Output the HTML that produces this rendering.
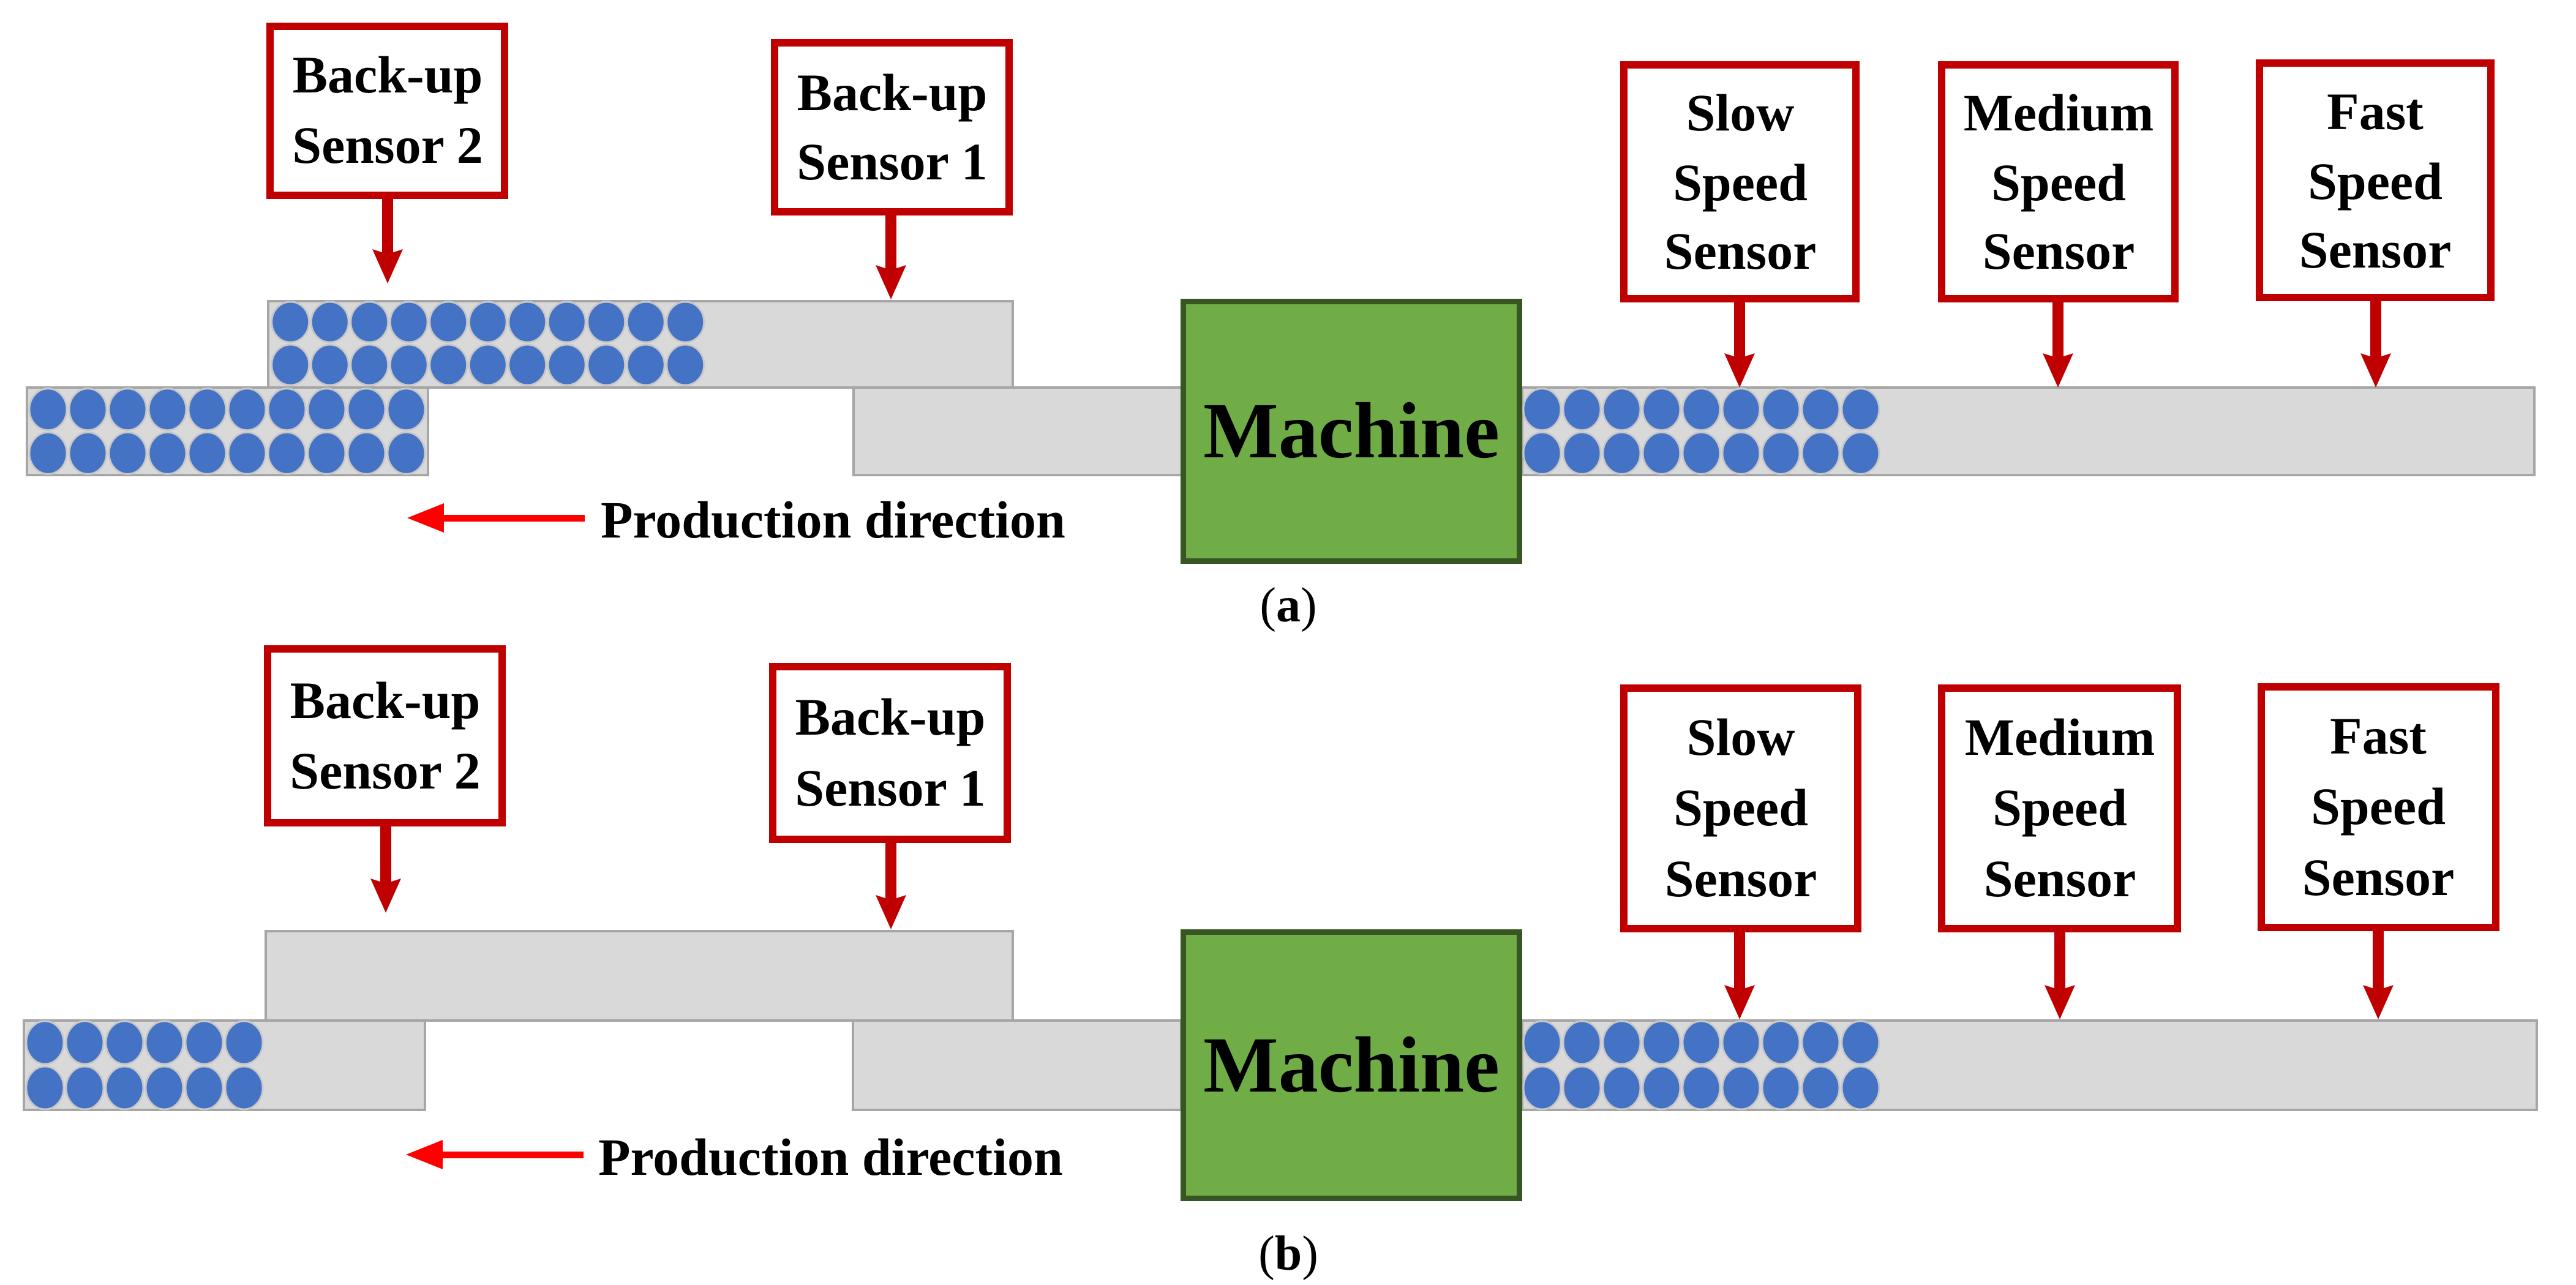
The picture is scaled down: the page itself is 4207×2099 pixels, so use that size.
<!DOCTYPE html>
<html><head><meta charset="utf-8"><style>
html,body{margin:0;padding:0;background:#fff;}
svg{display:block;}
text{font-family:"Liberation Serif",serif;font-weight:bold;fill:#000;}
.s{font-size:86px;text-anchor:middle;}
</style></head><body>
<svg width="4207" height="2099" viewBox="0 0 4207 2099" xmlns="http://www.w3.org/2000/svg">
<defs>
<pattern id="pA1" patternUnits="userSpaceOnUse" x="442" y="491" width="64.5" height="70"><ellipse cx="32.25" cy="35" rx="30.5" ry="33" fill="#4472c4" stroke="#c8c8c8" stroke-width="3"/></pattern>
<pattern id="pA2" patternUnits="userSpaceOnUse" x="46" y="633" width="65" height="71.5"><ellipse cx="32.5" cy="35.75" rx="30.5" ry="34" fill="#4472c4" stroke="#c8c8c8" stroke-width="3"/></pattern>
<pattern id="pA3" patternUnits="userSpaceOnUse" x="2486" y="633" width="65" height="71.5"><ellipse cx="32.5" cy="35.75" rx="30.5" ry="34" fill="#4472c4" stroke="#c8c8c8" stroke-width="3"/></pattern>
<pattern id="pB2" patternUnits="userSpaceOnUse" x="41" y="1666" width="65" height="74"><ellipse cx="32.5" cy="37" rx="30.5" ry="35" fill="#4472c4" stroke="#c8c8c8" stroke-width="3"/></pattern>
<pattern id="pB3" patternUnits="userSpaceOnUse" x="2486" y="1666" width="65" height="74"><ellipse cx="32.5" cy="37" rx="30.5" ry="35" fill="#4472c4" stroke="#c8c8c8" stroke-width="3"/></pattern>
</defs>

<!-- ===== (a) ===== -->
<g fill="#d9d9d9" stroke="#a6a6a6" stroke-width="4">
<rect x="44" y="633" width="655" height="143"/>
<rect x="1394" y="633" width="537" height="143"/>
<rect x="2486" y="633" width="1653" height="143"/>
<rect x="438" y="492" width="1216" height="141"/>
</g>
<rect x="442" y="491" width="709.5" height="140" fill="url(#pA1)"/>
<rect x="46" y="633" width="650" height="143" fill="url(#pA2)"/>
<rect x="2486" y="633" width="585" height="143" fill="url(#pA3)"/>

<rect x="1932.5" y="492.5" width="549" height="424" fill="#70ad47" stroke="#375623" stroke-width="9"/>
<text x="2207" y="747" style="font-size:130px;text-anchor:middle">Machine</text>

<g fill="#fff" stroke="#c00000" stroke-width="12">
<rect x="441" y="43" width="383" height="276"/>
<rect x="1265" y="70" width="383" height="276"/>
<rect x="2652" y="106" width="379" height="382"/>
<rect x="3171" y="106" width="381" height="382"/>
<rect x="3690" y="103" width="378" height="383"/>
</g>
<text class="s" x="633" y="151">Back-up</text><text class="s" x="633" y="266">Sensor 2</text>
<text class="s" x="1457" y="180">Back-up</text><text class="s" x="1457" y="293">Sensor 1</text>
<text class="s" x="2842" y="213">Slow</text><text class="s" x="2842" y="327">Speed</text><text class="s" x="2842" y="439">Sensor</text>
<text class="s" x="3362" y="213">Medium</text><text class="s" x="3362" y="327">Speed</text><text class="s" x="3362" y="439">Sensor</text>
<text class="s" x="3879" y="211">Fast</text><text class="s" x="3879" y="325">Speed</text><text class="s" x="3879" y="437">Sensor</text>

<g fill="#c00000">
<rect x="624" y="319" width="18" height="96"/><polygon points="633,463 608,407 633,415 658,407"/>
<rect x="1446" y="346" width="18" height="95"/><polygon points="1455,489 1430,433 1455,441 1480,433"/>
<rect x="2832" y="488" width="18" height="97"/><polygon points="2841,633 2816,577 2841,585 2866,577"/>
<rect x="3352" y="488" width="18" height="97"/><polygon points="3361,633 3336,577 3361,585 3386,577"/>
<rect x="3871" y="486" width="18" height="99"/><polygon points="3880,633 3855,577 3880,585 3905,577"/>
</g>

<rect x="715" y="841" width="240" height="11" fill="#ff0000"/>
<polygon points="665,846 725,822 725,870" fill="#ff0000"/>
<text x="981" y="878" style="font-size:86px">Production direction</text>
<text x="2104" y="1015" style="font-size:80px;text-anchor:middle;font-weight:normal">(<tspan font-weight="bold">a</tspan>)</text>

<!-- ===== (b) ===== -->
<g fill="#d9d9d9" stroke="#a6a6a6" stroke-width="4">
<rect x="39" y="1667" width="655" height="146"/>
<rect x="1393" y="1667" width="536" height="146"/>
<rect x="2486" y="1667" width="1657" height="146"/>
<rect x="434" y="1521" width="1220" height="146"/>
</g>
<rect x="41" y="1666" width="390" height="148" fill="url(#pB2)"/>
<rect x="2486" y="1666" width="585" height="148" fill="url(#pB3)"/>

<rect x="1932.5" y="1522.5" width="549" height="435" fill="#70ad47" stroke="#375623" stroke-width="9"/>
<text x="2207" y="1783" style="font-size:130px;text-anchor:middle">Machine</text>

<g fill="#fff" stroke="#c00000" stroke-width="12">
<rect x="437" y="1060" width="383" height="284"/>
<rect x="1262" y="1089" width="383" height="282"/>
<rect x="2652" y="1124" width="382" height="393"/>
<rect x="3171" y="1124" width="385" height="393"/>
<rect x="3693" y="1122" width="383" height="393"/>
</g>
<text class="s" x="629" y="1173">Back-up</text><text class="s" x="629" y="1288">Sensor 2</text>
<text class="s" x="1454" y="1200">Back-up</text><text class="s" x="1454" y="1316">Sensor 1</text>
<text class="s" x="2843" y="1233">Slow</text><text class="s" x="2843" y="1348">Speed</text><text class="s" x="2843" y="1464">Sensor</text>
<text class="s" x="3364" y="1233">Medium</text><text class="s" x="3364" y="1348">Speed</text><text class="s" x="3364" y="1464">Sensor</text>
<text class="s" x="3884" y="1231">Fast</text><text class="s" x="3884" y="1346">Speed</text><text class="s" x="3884" y="1462">Sensor</text>

<g fill="#c00000">
<rect x="621" y="1344" width="18" height="99"/><polygon points="630,1491 605,1435 630,1443 655,1435"/>
<rect x="1446" y="1371" width="18" height="99"/><polygon points="1455,1518 1430,1462 1455,1470 1480,1462"/>
<rect x="2832" y="1517" width="18" height="100"/><polygon points="2841,1665 2816,1609 2841,1617 2866,1609"/>
<rect x="3355" y="1517" width="18" height="100"/><polygon points="3364,1665 3339,1609 3364,1617 3389,1609"/>
<rect x="3875" y="1515" width="18" height="102"/><polygon points="3884,1665 3859,1609 3884,1617 3909,1609"/>
</g>

<rect x="713" y="1881" width="240" height="11" fill="#ff0000"/>
<polygon points="663,1886 723,1862 723,1910" fill="#ff0000"/>
<text x="977" y="1919" style="font-size:86px">Production direction</text>
<text x="2104" y="2074" style="font-size:80px;text-anchor:middle;font-weight:normal">(<tspan font-weight="bold">b</tspan>)</text>
</svg>
</body></html>
